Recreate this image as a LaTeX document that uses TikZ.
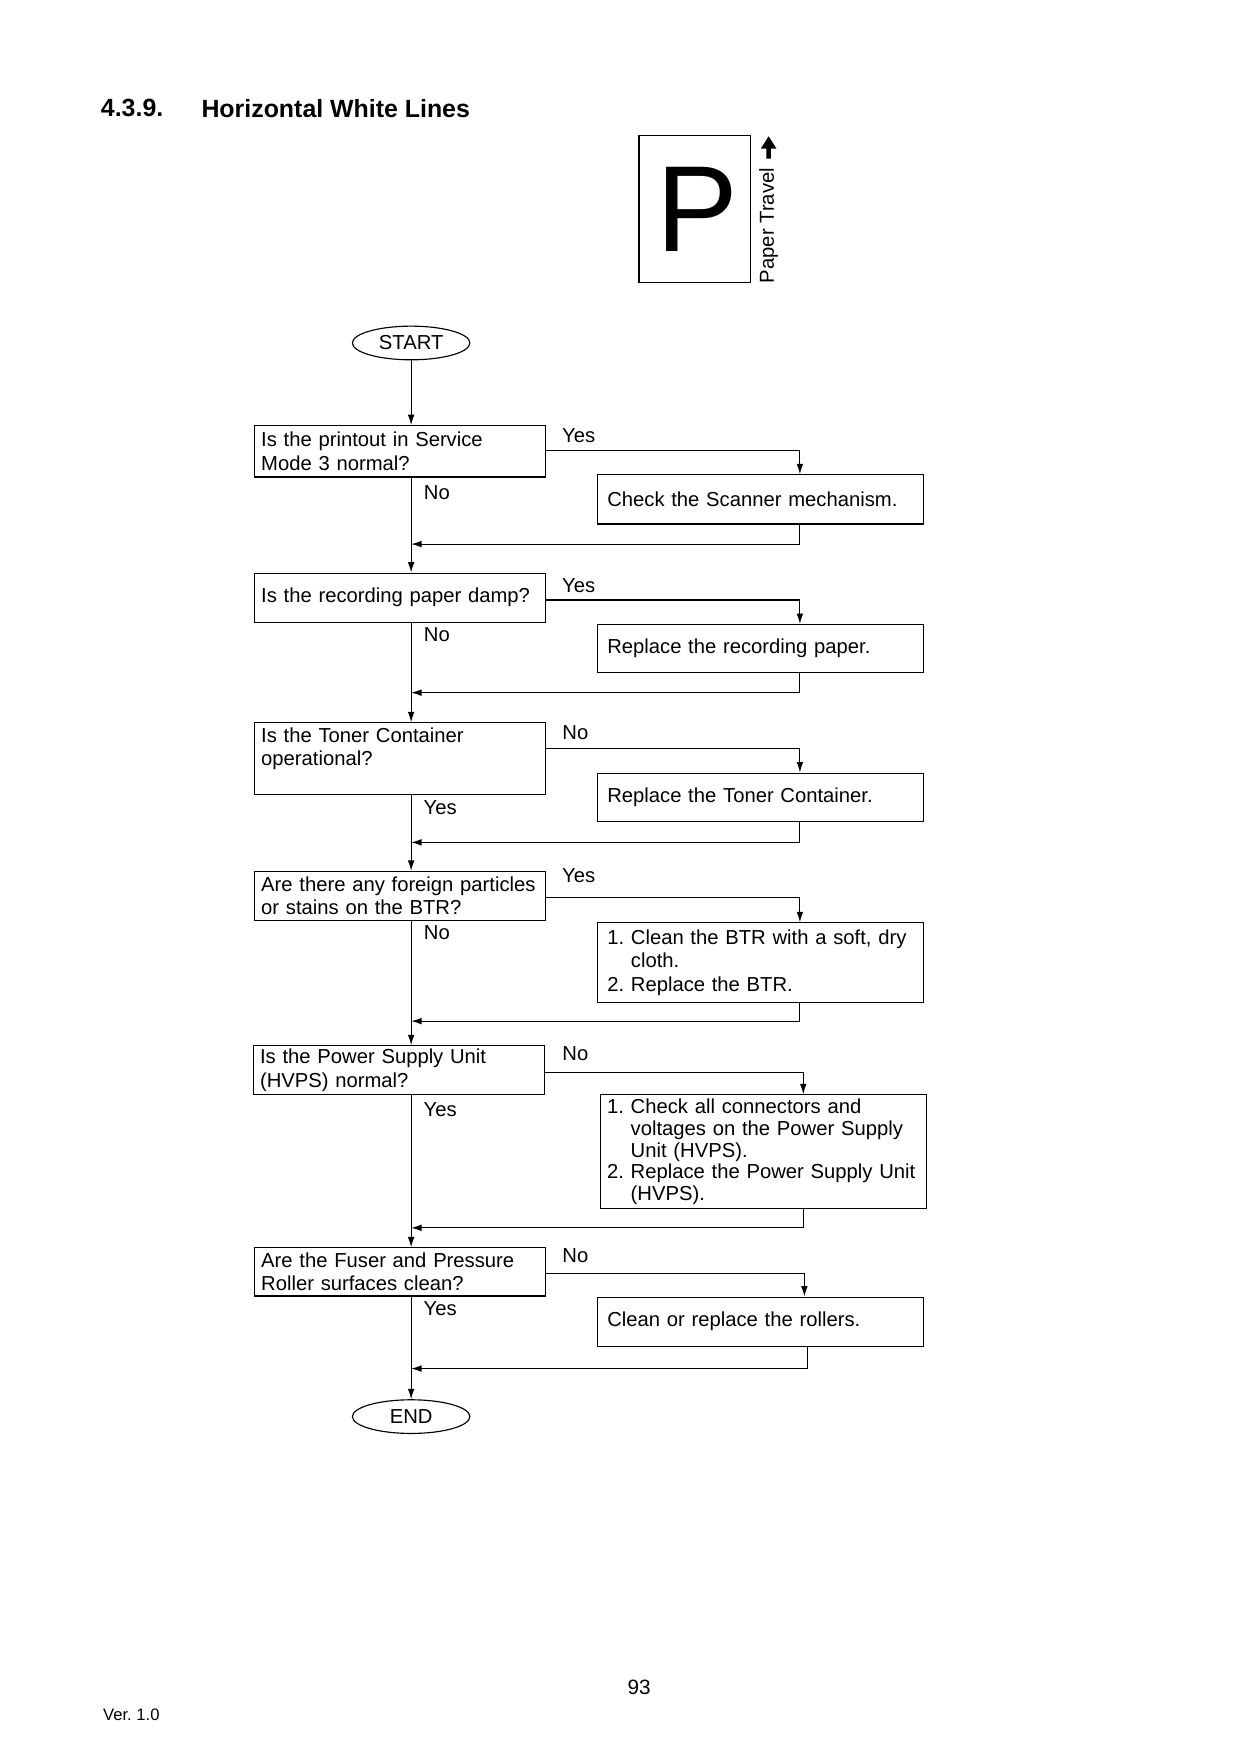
\documentclass[tikz,border=0pt]{standalone}
\usepackage{fontspec}
\setmainfont{Liberation Sans}
\usetikzlibrary{shapes.geometric}
\usetikzlibrary{arrows.meta}
\tikzset{>={Latex[length=5pt,width=3.2pt]}}
\tikzset{
	txt/.style={font=\fontsize{9.75}{11.3}\selectfont, inner sep=0pt},
	heading/.style={font=\fontsize{12}{14}\selectfont\bfseries, inner sep=0pt, anchor=west},
	question/.style={draw, line width=0.55pt, font=\fontsize{9.75}{11.3}\selectfont, text width=47mm, inner xsep=1.1mm, inner ysep=1pt, align=left},
	action/.style={draw, line width=0.55pt, font=\fontsize{9.75}{11.3}\selectfont, text width=52mm, inner xsep=1.6mm, inner ysep=1pt, align=left},
	terminal/.style={draw, ellipse, line width=0.55pt, font=\fontsize{9.75}{11.3}\selectfont, minimum width=19.9mm, minimum height=5.7mm, inner sep=0pt},
	flow/.style={->, line width=0.55pt},
}
\frenchspacing

\begin{document}
\begin{tikzpicture}[x=0.18919mm, y=-0.18919mm]
		\useasboundingbox (0,0) rectangle (1110,1570);

		% heading
		\node[heading] (secnum) at (90,97) {4.3.9.};
		\node[heading] (title) at (180,97) {Horizontal White Lines};

		% paper orientation
		\node[draw, line width=0.55pt, minimum width=18.92mm, minimum height=24.97mm, inner sep=0pt] (paper) at (622,187) {};
		\node[font=\fontsize{59}{59}\selectfont, inner sep=0pt] (letter) at (624,187) {P};
		\node[txt, rotate=90] (travel) at (688,202) {Paper Travel};
		\fill (686,142) -- (686,133) -- (681,133) -- (688,122) -- (695,133) -- (690,133) -- (690,142) -- cycle;

		% flow
		\node[terminal] (start) at (368,307) {START};

		\node[question, minimum height=8.7mm] (q1) at (358,404) {Is the printout in Service\\Mode 3 normal?};
		\node[action, minimum height=8.32mm] (a1) at (681,447) {Check the Scanner mechanism.};

		\node[question, minimum height=8.32mm] (q2) at (358,535) {Is the recording paper damp?};
		\node[action, minimum height=8.14mm] (a2) at (681,580.5) {Replace the recording paper.};

		\node[question, minimum height=12.11mm, inner ysep=0pt] (q3) at (358,679) {Is the Toner Container\\operational?\\ \mbox{}};
		\node[action, minimum height=8.14mm] (a3) at (681,713.5) {Replace the Toner Container.};

		\node[question, minimum height=8.32mm] (q4) at (358,802) {Are there any foreign particles\\or stains on the BTR?};
		\node[action, minimum height=13.43mm] (a4) at (681,861.5) {1. Clean the BTR with a soft, dry\\\hphantom{1.\ }cloth.\\2. Replace the BTR.};

		\node[question, minimum height=8.32mm] (q5) at (357,958) {Is the Power Supply Unit\\(HVPS) normal?};
		\node[action, minimum height=19.3mm, text width=53mm, inner xsep=1.1mm, font=\fontsize{9.75}{10.4}\selectfont] (a5) at (683.5,1031) {1. Check all connectors and\\\hphantom{1.\ }voltages on the Power Supply\\\hphantom{1.\ }Unit (HVPS).\\2. Replace the Power Supply~Unit\\\hphantom{1.\ }(HVPS).};

		\node[question, minimum height=8.14mm] (q6) at (358,1138.5) {Are the Fuser and Pressure\\Roller surfaces clean?};
		\node[action, minimum height=8.32mm] (a6) at (681,1183) {Clean or replace the rollers.};

		\node[terminal] (end) at (368,1268) {END};

		% answers
		\node[txt] (y1) at (518,390) {Yes};
		\node[txt] (n1) at (391,441) {No};
		\node[txt] (y2) at (518,524) {Yes};
		\node[txt] (n2) at (391,568) {No};
		\node[txt] (n3) at (515,656) {No};
		\node[txt] (y3) at (394,723) {Yes};
		\node[txt] (y4) at (518,784) {Yes};
		\node[txt] (n4) at (391,835) {No};
		\node[txt] (n5) at (515,943) {No};
		\node[txt] (y5) at (394,993) {Yes};
		\node[txt] (n6) at (515,1124) {No};
		\node[txt] (y6) at (394,1171) {Yes};

		% main line
		\draw[flow] (start.south) -- (q1.north -| start);
		\draw[flow] (q1.south -| start) -- (q2.north -| start);
		\draw[flow] (q2.south -| start) -- (q3.north -| start);
		\draw[flow] (q3.south -| start) -- (q4.north -| start);
		\draw[flow] (q4.south -| start) -- (q5.north -| start);
		\draw[flow] (q5.south -| start) -- (q6.north -| start);
		\draw[flow] (q6.south -| start) -- (end.north);

		% branches out and back
		\coordinate (s1) at (716,403);
		\coordinate (j1) at (716,487);
		\draw[flow] (q1.east |- s1) -- (s1) -- (s1 |- a1.north);
		\draw[flow] (j1 |- a1.south) -- (j1) -- (j1 -| start);

		\coordinate (s2) at (716,537);
		\coordinate (j2) at (716,620);
		\draw[flow] (q2.east |- s2) -- (s2) -- (s2 |- a2.north);
		\draw[flow] (j2 |- a2.south) -- (j2) -- (j2 -| start);

		\coordinate (s3) at (716,670);
		\coordinate (j3) at (716,754);
		\draw[flow] (q3.east |- s3) -- (s3) -- (s3 |- a3.north);
		\draw[flow] (j3 |- a3.south) -- (j3) -- (j3 -| start);

		\coordinate (s4) at (716,803);
		\coordinate (j4) at (716,914);
		\draw[flow] (q4.east |- s4) -- (s4) -- (s4 |- a4.north);
		\draw[flow] (j4 |- a4.south) -- (j4) -- (j4 -| start);

		\coordinate (s5) at (719,960);
		\coordinate (j5) at (719,1099);
		\draw[flow] (q5.east |- s5) -- (s5) -- (s5 |- a5.north);
		\draw[flow] (j5 |- a5.south) -- (j5) -- (j5 -| start);

		\coordinate (s6) at (720,1140);
		\coordinate (j6) at (723,1225);
		\draw[flow] (q6.east |- s6) -- (s6) -- (s6 |- a6.north);
		\draw[flow] (j6 |- a6.south) -- (j6) -- (j6 -| start);

		% footer
		\node[font=\fontsize{10}{12}\selectfont, inner sep=0pt] (pagenum) at (572,1510) {93};
		\node[font=\fontsize{8}{9.6}\selectfont, inner sep=0pt, anchor=west] (version) at (92,1535) {Ver. 1.0};
	\end{tikzpicture}
\end{document}
